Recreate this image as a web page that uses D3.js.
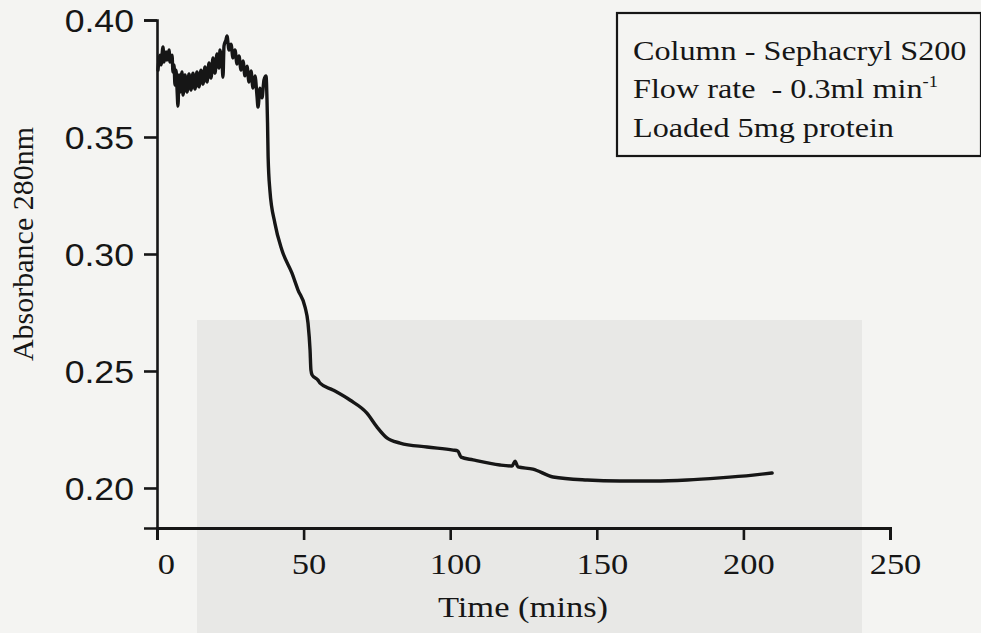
<!DOCTYPE html>
<html>
<head>
<meta charset="utf-8">
<script src="https://cdn.jsdelivr.net/npm/d3@7"></script>
<style>
  html, body { margin: 0; padding: 0; background: #f4f4f2; }
  svg { display: block; }
</style>
</head>
<body>
<svg id="chart" width="981" height="633"></svg>
<script>
// ---- data ----
const timeMins = [
  0.34, 1.02, 1.36, 2.05, 2.39, 3.07, 3.41, 4.09, 4.43, 5.12, 5.46, 5.80, 6.14, 6.48, 6.82, 7.16, 7.50, 7.84,
  8.53, 8.87, 9.55, 10.23, 10.92, 11.60, 12.28, 12.96, 13.64, 14.32, 15.01, 15.69, 16.37, 17.05, 17.74, 18.42,
  19.10, 19.78, 20.46, 21.15, 21.49, 22.17, 22.51, 22.85, 23.53, 23.87, 24.56, 25.24, 25.92, 26.60, 27.29, 27.97,
  28.65, 29.33, 30.01, 30.70, 31.38, 32.06, 32.74, 33.42, 34.11, 34.45, 35.13, 35.81, 36.49, 37.18, 37.52,
  37.7, 37.9, 38.5, 40.2, 42.6, 46.0, 48.1, 50.5, 51.5, 52.2, 52.5, 52.9, 54.9, 55.6, 60.0, 65.8, 71.6, 75.0,
  78.4, 82.9, 92.1, 101.0, 102.6, 103.7, 107.8, 117.0, 121.1, 122.1, 123.1, 128.2, 135.1, 146.7, 157.9, 169.2,
  180.8, 192.0, 203.3, 209.8
];
const absorbance = [
  0.3786, 0.3850, 0.3808, 0.3885, 0.3820, 0.3863, 0.3829, 0.3872, 0.3820, 0.3850, 0.3778, 0.3808, 0.3722, 0.3786, 0.3709, 0.3632, 0.3765, 0.3692,
  0.3778, 0.3679, 0.3765, 0.3692, 0.3769, 0.3701, 0.3773, 0.3705, 0.3778, 0.3714, 0.3786, 0.3726, 0.3799, 0.3735, 0.3816, 0.3752,
  0.3838, 0.3773, 0.3855, 0.3795, 0.3872, 0.3820, 0.3756, 0.3889, 0.3915, 0.3932, 0.3872, 0.3897, 0.3838, 0.3872, 0.3812, 0.3846,
  0.3786, 0.3825, 0.3761, 0.3803, 0.3735, 0.3782, 0.3709, 0.3761, 0.3675, 0.3628, 0.3709, 0.3667, 0.3744, 0.3761, 0.3658,
  0.3560, 0.3415, 0.3273, 0.3132, 0.3017, 0.2919, 0.2846, 0.2773, 0.2705, 0.2590, 0.2504, 0.2483, 0.2461, 0.2448, 0.2419, 0.2376, 0.2320, 0.2261,
  0.2214, 0.2192, 0.2175, 0.2162, 0.2158, 0.2132, 0.2120, 0.2098, 0.2094, 0.2115, 0.2090, 0.2081, 0.2047, 0.2034, 0.2030, 0.2030,
  0.2034, 0.2043, 0.2055, 0.2064
];
const xTicks = [0, 50, 100, 150, 200, 250];
const yTicks = [0.20, 0.25, 0.30, 0.35, 0.40];
const xTitle = "Time (mins)";
const yTitle = "Absorbance 280nm";
const noteLines = ["Column - Sephacryl S200", "Flow rate  - 0.3ml min", "Loaded 5mg protein"];

// ---- layout ----
const svg = d3.select("#chart");
const ink = "#161616";
const serif = "'Liberation Serif', 'Times New Roman', serif";
const sans = "'Liberation Sans', Arial, sans-serif";
const stretch = 1.15;

// faint bleed-through area of the scanned page
svg.append("rect").attr("x", 197).attr("y", 320).attr("width", 665).attr("height", 313).attr("fill", "#e8e8e6");

const x = d3.scaleLinear().domain([0, 250]).range([157, 890]);
const y = d3.scaleLinear().domain([0.1829, 0.40]).range([528, 20]);

// y axis
const yAxis = svg.append("g").attr("transform", `translate(${x(0)},0)`)
  .call(d3.axisLeft(y).tickValues(yTicks).tickFormat(d3.format(".2f")).tickSizeOuter(0).tickSize(13).tickPadding(0));
yAxis.select(".domain").attr("stroke", ink).attr("stroke-width", 2.6);
yAxis.selectAll(".tick line").attr("stroke", ink).attr("stroke-width", 2.6);
yAxis.selectAll(".tick text")
  .attr("font-family", sans).attr("font-size", 31).attr("fill", ink)
  .attr("text-anchor", "end").attr("dy", "0.36em")
  .attr("x", -23 / stretch)
  .attr("transform", `scale(${stretch},1)`);

// x axis
const xAxis = svg.append("g").attr("transform", `translate(0,${y.range()[0]})`)
  .call(d3.axisBottom(x).tickValues(xTicks).tickFormat(d3.format("d")).tickSizeOuter(0).tickSize(12).tickPadding(0));
xAxis.select(".domain").attr("stroke", ink).attr("stroke-width", 3);
xAxis.selectAll(".tick line").attr("stroke", ink).attr("stroke-width", 2.6);
xAxis.selectAll(".tick text")
  .attr("font-family", serif).attr("font-size", 30).attr("fill", ink)
  .attr("y", 0).attr("dy", 46).attr("x", d => (d === 0 ? 9 : 5) / stretch)
  .attr("transform", `scale(${stretch},1)`);

// curve
const pts = timeMins.map((t, i) => [t, absorbance[i]]);
svg.append("path")
  .datum(pts)
  .attr("fill", "none")
  .attr("stroke", ink)
  .attr("stroke-width", 3.4)
  .attr("stroke-linejoin", "round")
  .attr("stroke-linecap", "round")
  .attr("d", d3.line().curve(d3.curveMonotoneX).x(d => x(d[0])).y(d => y(d[1])));

// axis titles
svg.append("text")
  .attr("transform", `translate(${523},617) scale(${stretch},1)`)
  .attr("text-anchor", "middle")
  .attr("font-family", serif).attr("font-size", 30).attr("fill", ink)
  .text(xTitle);
svg.append("text")
  .attr("transform", `translate(33,244) rotate(-90)`)
  .attr("text-anchor", "middle")
  .attr("font-family", serif).attr("font-size", 30).attr("fill", ink)
  .text(yTitle);

// note box
svg.append("rect").attr("x", 617).attr("y", 13).attr("width", 364).attr("height", 143)
  .attr("fill", "none").attr("stroke", ink).attr("stroke-width", 2.2);
const note = svg.append("g").attr("transform", `translate(633,0) scale(${stretch},1)`)
  .attr("font-family", serif).attr("font-size", 28).attr("fill", ink);
noteLines.forEach((s, i) => {
  const t = note.append("text").attr("x", 0).attr("y", 60 + i * 38.5)
    .text(s.replace(/  /g, " \u00a0"));
  if (i === 1) {
    t.append("tspan").attr("dy", -11).attr("font-size", 16).text("-1");
  }
});
</script>
</body>
</html>
